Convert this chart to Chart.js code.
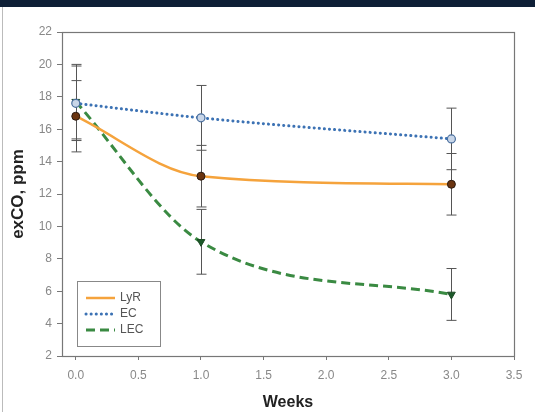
<!DOCTYPE html>
<html>
<head>
<meta charset="utf-8">
<script src="https://cdn.jsdelivr.net/npm/chart.js@4/dist/chart.umd.min.js"></script>
<style>
  html, body { margin: 0; padding: 0; background: #fff; }
  #wrap { position: relative; width: 535px; height: 412px; overflow: hidden; }
  #band { position: absolute; left: 0; top: 0; width: 535px; height: 7px; background: #0e1f36; }
  #edge { position: absolute; left: 2px; top: 7px; width: 1px; height: 405px; background: #bbb; }
  canvas { position: absolute; left: 0; top: 0; }
</style>
</head>
<body>
<div id="wrap">
  <canvas id="coChart" width="535" height="412"></canvas>
  <div id="band"></div>
  <div id="edge"></div>
</div>
<script>
// data
const weeks = [0, 1, 3];
const lyrValues = [16.8, 13.1, 12.6];
const lyrErrors = [2.2, 1.9, 1.9];
const ecValues = [17.6, 16.7, 15.4];
const ecErrors = [2.3, 2.0, 1.9];
const lecValues = [17.7, 9.05, 5.8];
const lecErrors = [2.3, 2.0, 1.6];
const seriesNames = ['LyR', 'EC', 'LEC'];
const xTicks = [0, 0.5, 1, 1.5, 2, 2.5, 3, 3.5];
const yTicks = [2, 4, 6, 8, 10, 12, 14, 16, 18, 20, 22];

const toPoints = vals => vals.map((v, i) => ({ x: weeks[i], y: v }));

// error bars + frame + legend
const extras = {
  id: 'extras',
  beforeDatasetsDraw(chart) {
    const c = chart.ctx, xs = chart.scales.x, ys = chart.scales.y;
    const errs = [lyrErrors, ecErrors, lecErrors];
    c.save();
    c.strokeStyle = '#555';
    c.lineWidth = 1;
    chart.data.datasets.forEach((ds, d) => {
      ds.data.forEach((p, i) => {
        const px = Math.round(xs.getPixelForValue(p.x)) + 0.5;
        const top = ys.getPixelForValue(p.y + errs[d][i]);
        const bot = ys.getPixelForValue(p.y - errs[d][i]);
        c.beginPath();
        c.moveTo(px, top); c.lineTo(px, bot);
        c.moveTo(px - 5, top); c.lineTo(px + 5, top);
        c.moveTo(px - 5, bot); c.lineTo(px + 5, bot);
        c.stroke();
      });
    });
    c.restore();
  },
  afterDraw(chart) {
    const c = chart.ctx, a = chart.chartArea;
    c.save();
    c.strokeStyle = '#777';
    c.lineWidth = 1.2;
    c.strokeRect(a.left + 0.5, a.top + 0.5, a.right - a.left, a.bottom - a.top);

    // legend box
    const bx = a.left + 15, by = a.bottom - 75;
    c.strokeStyle = '#888';
    c.lineWidth = 1;
    c.strokeRect(bx + 0.5, by + 0.5, 83, 65);
    c.font = '12px "Liberation Sans", Arial, sans-serif';
    c.textBaseline = 'middle';
    chart.data.datasets.forEach((ds, i) => {
      const ly = by + 17 + i * 16;
      c.beginPath();
      c.strokeStyle = ds.borderColor;
      c.lineWidth = ds.borderWidth;
      c.lineCap = ds.borderCapStyle || 'butt';
      c.setLineDash(ds.borderDash || []);
      c.moveTo(bx + 9, ly); c.lineTo(bx + 38, ly);
      c.stroke();
      c.setLineDash([]);
      c.fillStyle = '#555';
      c.fillText(seriesNames[i], bx + 43, ly);
    });
    c.restore();
  }
};

const ctx = document.getElementById('coChart');

new Chart(ctx, {
  type: 'line',
  data: {
    datasets: [{
      label: seriesNames[0],
      data: toPoints(lyrValues),
      borderColor: '#f5a33c',
      borderWidth: 2.5,
      cubicInterpolationMode: 'monotone',
      pointStyle: 'circle',
      pointRadius: 4,
      pointBackgroundColor: '#6a3410',
      pointBorderColor: '#2a1a10',
      pointBorderWidth: 1
    }, {
      label: seriesNames[1],
      data: toPoints(ecValues),
      borderColor: '#3c72b4',
      borderWidth: 3,
      borderDash: [0.1, 5],
      borderCapStyle: 'round',
      cubicInterpolationMode: 'monotone',
      pointStyle: 'circle',
      pointRadius: 4,
      pointBackgroundColor: '#c9d6e8',
      pointBorderColor: '#4a6f9e',
      pointBorderWidth: 1.2
    }, {
      label: seriesNames[2],
      data: toPoints(lecValues),
      borderColor: '#3a8a42',
      borderWidth: 3,
      borderDash: [9, 5],
      cubicInterpolationMode: 'monotone',
      pointStyle: 'triangle',
      rotation: 180,
      pointRadius: 4.5,
      pointBackgroundColor: '#1d5a2b',
      pointBorderColor: '#1d4a25',
      pointBorderWidth: 1
    }]
  },
  options: {
    responsive: false,
    animation: false,
    layout: { padding: { left: 0, top: 32, right: 21, bottom: 0 } },
    plugins: { legend: { display: false }, tooltip: { enabled: false } },
    scales: {
      x: {
        type: 'linear',
        min: -0.11,
        max: 3.5,
        afterBuildTicks: s => { s.ticks = xTicks.map(v => ({ value: v })); },
        afterFit: s => { s.height = 56; },
        grid: { drawOnChartArea: false, drawTicks: true, tickLength: 4, color: '#777' },
        border: { display: false },
        ticks: {
          color: '#888',
          padding: 8,
          maxRotation: 0,
          font: { family: '"Liberation Sans", Arial, sans-serif', size: 12 },
          callback: v => v.toFixed(1)
        },
        title: {
          display: true,
          text: 'Weeks',
          color: '#222',
          padding: { top: 0, bottom: 0 },
          font: { family: '"Liberation Sans", Arial, sans-serif', size: 16, weight: 'bold' }
        }
      },
      y: {
        min: 2,
        max: 22,
        afterBuildTicks: s => { s.ticks = yTicks.map(v => ({ value: v })); },
        afterFit: s => { s.width = 62; },
        grid: { drawOnChartArea: false, drawTicks: true, tickLength: 5, color: '#777' },
        border: { display: false },
        ticks: {
          color: '#888',
          padding: 5,
          font: { family: '"Liberation Sans", Arial, sans-serif', size: 12 }
        },
        title: {
          display: true,
          text: 'exCO, ppm',
          color: '#222',
          padding: { top: 8, bottom: 0 },
          font: { family: '"Liberation Sans", Arial, sans-serif', size: 17, weight: 'bold' }
        }
      }
    }
  },
  plugins: [extras]
});
</script>
</body>
</html>
